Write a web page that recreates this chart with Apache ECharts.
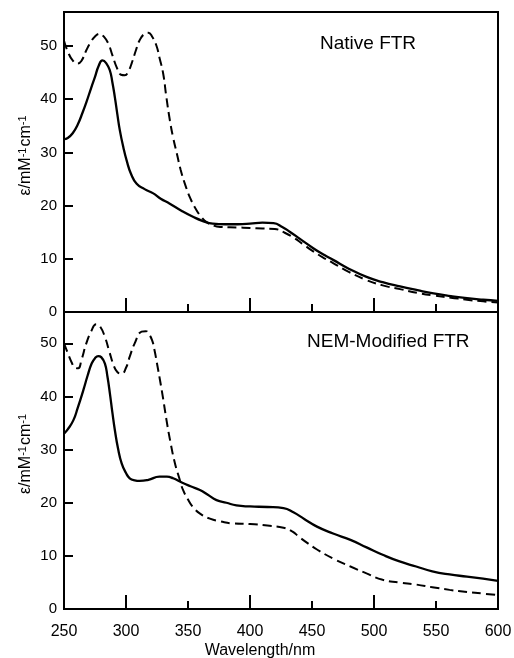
<!DOCTYPE html>
<html>
<head>
<meta charset="utf-8">
<script src="https://cdn.jsdelivr.net/npm/echarts@6/dist/echarts.min.js"></script>
<style>
html,body{margin:0;padding:0;background:#fff;}
#c{width:514px;height:658px;}
</style>
</head>
<body>
<div id="c"></div>
<script>
// ---- Data (wavelength nm, epsilon mM^-1 cm^-1) ----
const xTicks = [250, 300, 350, 400, 450, 500, 550, 600];
const xLongTicks = [300, 400, 500];
const yTicks = [0, 10, 20, 30, 40, 50];

const nativeSolid = [[250,32.5],[253,32.7],[257,33.6],[261,35.2],[265,37.5],[268,39.4],[272,42.2],[275,44.2],[278,46.3],[281,47.3],[284,46.8],[287,45.4],[289,43.2],[291,40.4],[293,37.2],[295,34.2],[298,30.8],[300.5,28.5],[304,26.0],[308.6,24.1],[315,23.1],[322,22.3],[328,21.3],[335,20.4],[345,19.0],[354,17.9],[362,17.1],[370,16.6],[380,16.5],[390,16.5],[400,16.6],[410,16.8],[419,16.7],[426,16.0],[432,15.1],[440,13.8],[451,12.0],[460,10.7],[467,9.8],[480,8.1],[494,6.6],[507,5.6],[521,4.8],[535,4.1],[548,3.5],[562,3.0],[575,2.6],[588,2.3],[600,2.1]];

const nativeDashed = [[250,51.0],[253,49.0],[257,47.3],[261,46.7],[264,47.2],[268,49.2],[271,50.5],[275,51.8],[279,52.3],[282,51.8],[285.7,50.5],[289,48.3],[292.5,46.0],[296,44.6],[299,44.5],[302,45.3],[304.5,46.7],[308,49.2],[311,51.1],[315,52.3],[318,52.5],[321,51.8],[324.5,50.1],[327,47.8],[330,44.8],[332.5,40.5],[335.4,36.0],[338,32.8],[341,29.8],[344,26.8],[347.5,24.1],[352,21.3],[357,19.1],[361,17.8],[365,16.9],[370,16.3],[376,16.0],[389,15.9],[400,15.8],[410,15.7],[420,15.6],[428,14.9],[435,14.0],[443,12.7],[451,11.4],[460,10.1],[467,9.2],[480,7.5],[494,6.0],[507,5.0],[521,4.3],[535,3.6],[548,3.1],[562,2.7],[575,2.3],[588,2.0],[600,1.8]];

const nemSolid = [[250,33.0],[253,33.8],[257.5,35.5],[261,37.8],[265.6,41.2],[269,43.9],[272.3,46.2],[275,47.2],[277.6,47.6],[280,47.4],[283,46.2],[285,43.8],[287,40.6],[289,37.0],[291,33.7],[293.5,30.3],[296.5,27.4],[300,25.6],[303,24.6],[307,24.2],[311,24.1],[318,24.3],[327,24.9],[333,24.9],[338,24.6],[345,23.8],[352,23.1],[359.6,22.4],[366,21.5],[373,20.5],[381,20.0],[389,19.5],[400,19.3],[414,19.2],[427,19.0],[435,18.2],[444,16.9],[454,15.5],[467,14.2],[481,13.0],[494,11.6],[507,10.2],[520,9.0],[534,8.0],[547,7.1],[561,6.5],[575,6.1],[588,5.7],[600,5.3]];

const nemDashed = [[250,50.0],[253,48.2],[256,46.5],[259,45.4],[261.5,45.3],[264,46.8],[268,50.0],[272,52.3],[276,53.6],[279,53.2],[283,51.2],[286.5,48.5],[290,45.9],[293,44.6],[296.5,44.3],[300,45.4],[303,47.5],[307,50.0],[312.6,52.2],[316,52.3],[318,51.9],[321,50.6],[323,48.7],[325,46.2],[327.4,43.1],[330,39.5],[332.7,35.5],[336,31.2],[339.5,27.4],[343,24.6],[346,22.4],[350,20.6],[354,19.2],[360,17.9],[367.7,17.0],[376,16.5],[386.5,16.1],[400,16.0],[414,15.7],[427,15.3],[434,14.6],[440,13.5],[447,12.3],[454,11.2],[467,9.5],[481,8.0],[494,6.7],[507,5.5],[520,5.0],[534,4.6],[547,4.1],[561,3.6],[575,3.2],[588,2.9],[600,2.6]];

const panelTitles = ['Native FTR', 'NEM-Modified FTR'];
const xName = 'Wavelength/nm';

// ---- Chart ----
const FONT = '"Liberation Sans", Arial, Helvetica, sans-serif';
const X_MIN = 250, X_MAX = 600;
const Y_TICK_SPAN = 7; // tick length expressed along the wavelength scale
const chart = echarts.init(document.getElementById('c'), null, {renderer: 'canvas'});

function xAxisMain(gi, showLabels) {
  return {
    type: 'value', gridIndex: gi, position: 'bottom',
    min: X_MIN, max: X_MAX, interval: 50,
    axisLine: {show: true, lineStyle: {color: '#000', width: 2}},
    axisTick: {show: true, inside: true, length: 8, lineStyle: {color: '#000', width: 2}},
    axisLabel: {show: showLabels, color: '#000', fontSize: 16, fontFamily: FONT, margin: 15},
    splitLine: {show: false},
    name: showLabels ? xName : '',
    nameLocation: 'middle', nameGap: 34, nameMoveOverlap: false,
    nameTextStyle: {color: '#000', fontSize: 16, fontFamily: FONT, padding: [0, 42, 0, 0]}
  };
}
function xAxisLong(gi) {
  return {
    type: 'value', gridIndex: gi, position: 'bottom',
    min: X_MIN, max: X_MAX, interval: 50,
    axisLine: {show: false},
    axisTick: {show: true, inside: true, length: 14, lineStyle: {color: '#000', width: 2}, customValues: xLongTicks},
    axisLabel: {show: false},
    splitLine: {show: false}
  };
}
function yAxis(gi, maxV) {
  return {
    type: 'value', gridIndex: gi, min: 0, max: maxV, interval: 10, position: 'left',
    axisLine: {show: true, lineStyle: {color: '#000', width: 2}},
    axisTick: {show: true, inside: true, length: 9, lineStyle: {color: '#000', width: 2}},
    axisLabel: {show: true, color: '#000', fontSize: 15, fontFamily: FONT, margin: 7, customValues: yTicks},
    splitLine: {show: false},
    name: '{n|ε/mM}{s|-1}{n|cm}{s|-1}',
    nameLocation: 'middle', nameRotate: 90, nameGap: 30, nameMoveOverlap: false,
    nameTextStyle: {
      color: '#000', fontFamily: FONT,
      padding: [0, 0, 0, 14],
      rich: {
        n: {fontSize: 16, color: '#000', fontFamily: FONT, lineHeight: 18, verticalAlign: 'bottom'},
        s: {fontSize: 11, color: '#000', fontFamily: FONT, lineHeight: 18, verticalAlign: 'top', padding: [1, 1, 0, 0]}
      }
    }
  };
}
// inward y ticks drawn through the axes' scales (markLine in data space)
function yTickMarks() {
  return {
    silent: true, symbol: 'none', animation: false,
    label: {show: false},
    lineStyle: {color: '#000', width: 2, type: 'solid'},
    emphasis: {disabled: true},
    data: yTicks.filter(v => v > 0).map(v => [{coord: [X_MIN, v]}, {coord: [X_MIN + Y_TICK_SPAN, v]}])
  };
}
function line(data, xi, yi, dashed, withTicks) {
  const s = {
    type: 'line', data: data, xAxisIndex: xi, yAxisIndex: yi,
    showSymbol: false, symbol: 'none', smooth: 0.5, silent: true,
    lineStyle: dashed ? {color: '#000', width: 2, type: [9, 5]} : {color: '#000', width: 2.3, type: 'solid'},
    z: 3
  };
  if (withTicks) s.markLine = yTickMarks();
  return s;
}

chart.setOption({
  animation: false,
  backgroundColor: '#fff',
  textStyle: {fontFamily: FONT},
  title: [
    {text: panelTitles[0], left: 320, top: 34, textStyle: {fontSize: 19, fontWeight: 'normal', color: '#000', fontFamily: FONT}, padding: 0},
    {text: panelTitles[1], left: 307, top: 332, textStyle: {fontSize: 19, fontWeight: 'normal', color: '#000', fontFamily: FONT}, padding: 0}
  ],
  grid: [
    {left: 64, right: 16, top: 12, height: 300, show: true, borderColor: '#000', borderWidth: 2, backgroundColor: 'transparent', outerBoundsMode: 'none', containLabel: false},
    {left: 64, right: 16, top: 312, height: 297, show: true, borderColor: '#000', borderWidth: 2, backgroundColor: 'transparent', outerBoundsMode: 'none', containLabel: false}
  ],
  xAxis: [xAxisMain(0, false), xAxisMain(1, true), xAxisLong(0), xAxisLong(1)],
  yAxis: [yAxis(0, 56.4), yAxis(1, 55.9)],
  series: [
    line(nativeSolid, 0, 0, false, true),
    line(nativeDashed, 0, 0, true, false),
    line(nemSolid, 1, 1, false, true),
    line(nemDashed, 1, 1, true, false)
  ]
});
</script>
</body>
</html>
